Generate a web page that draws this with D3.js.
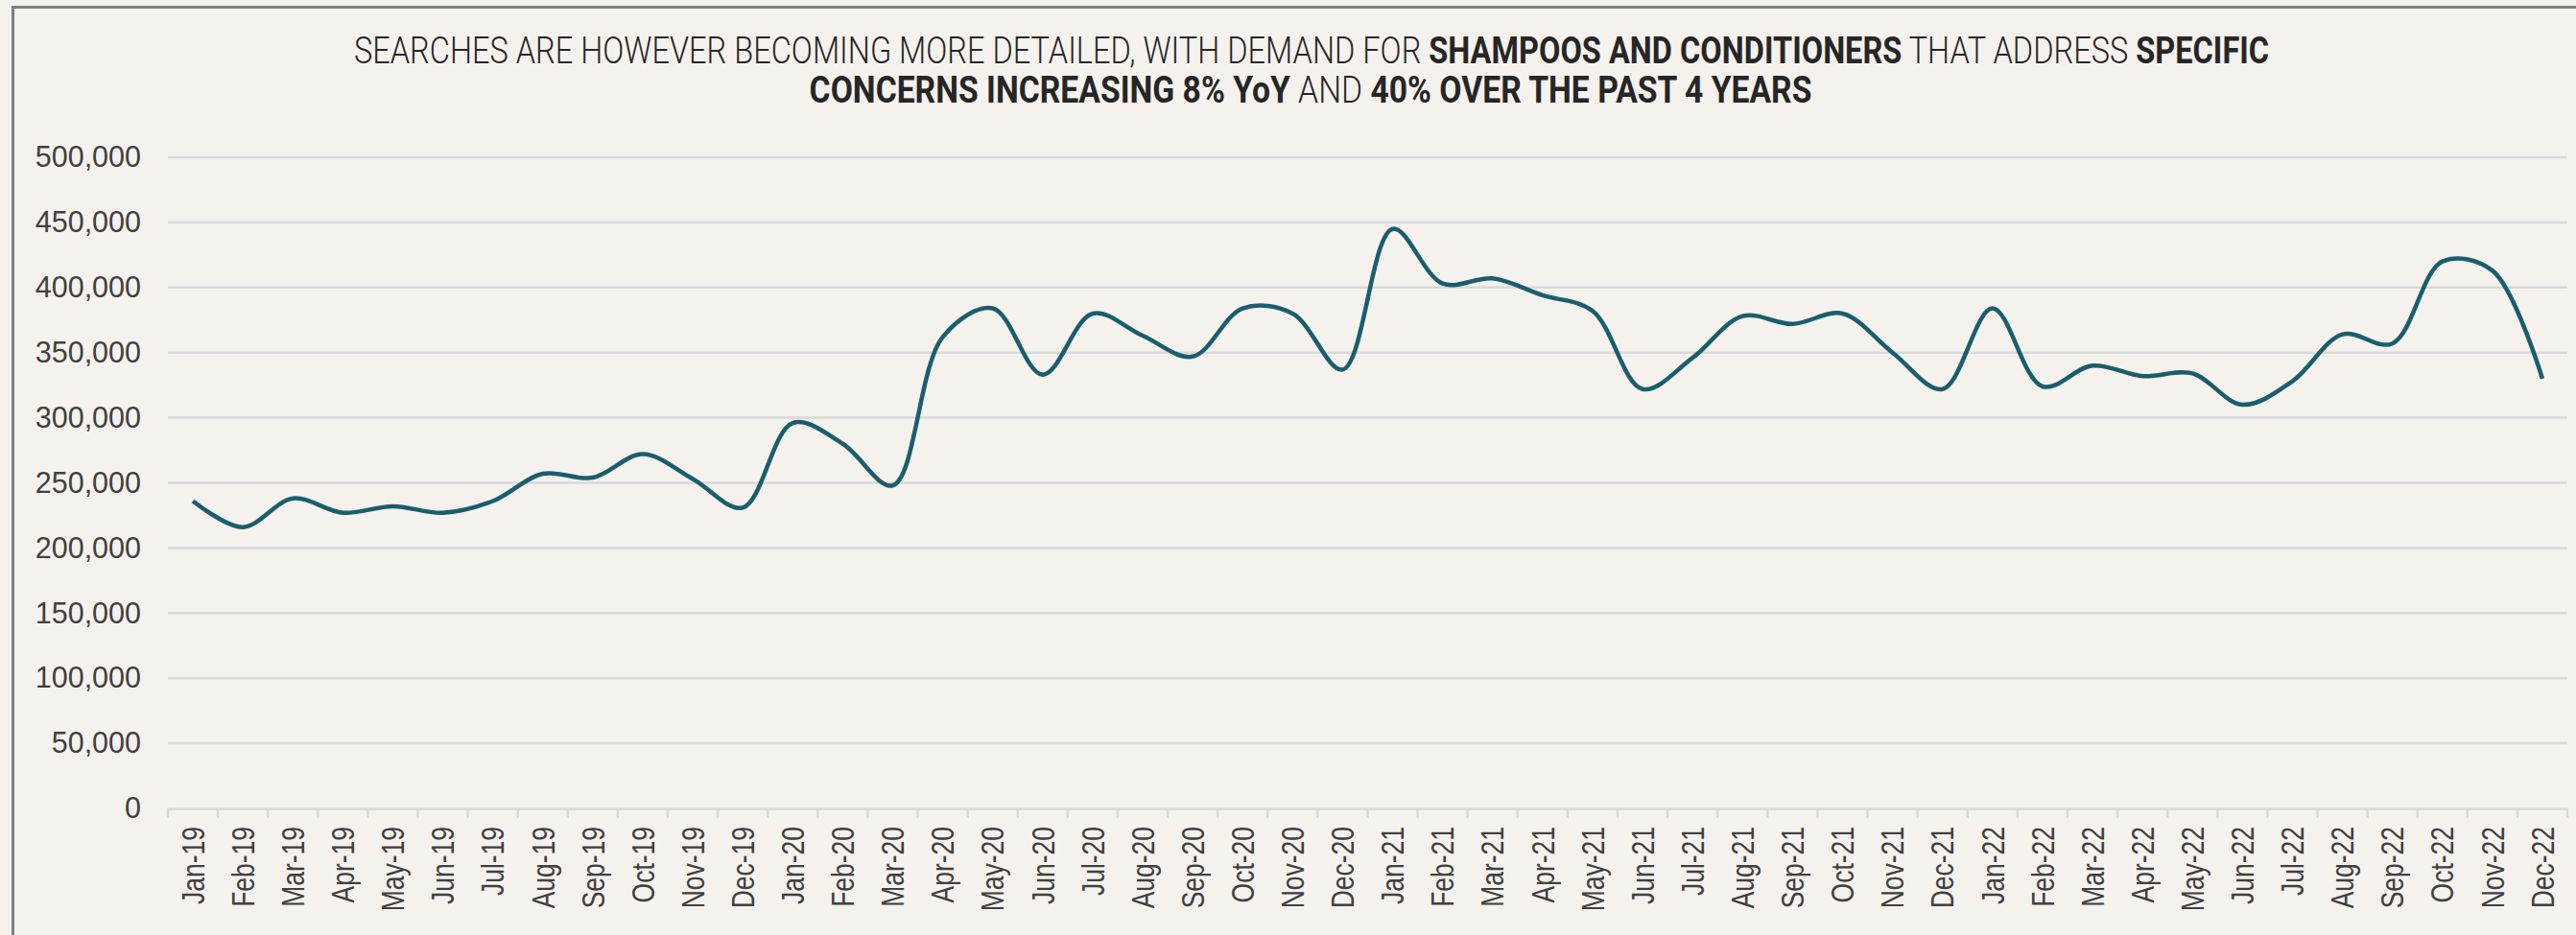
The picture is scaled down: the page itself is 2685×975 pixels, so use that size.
<!DOCTYPE html>
<html>
<head>
<meta charset="utf-8">
<script src="https://cdn.jsdelivr.net/npm/d3@7"></script>
<style>
  html, body { margin: 0; padding: 0; background: #f5f2ee; }
  svg { display: block; }
  .title tspan { white-space: pre; }
</style>
</head>
<body>
<svg id="chart"></svg>
<script>
// monthly searches, Jan-19 .. Dec-22
var months = ["Jan-19","Feb-19","Mar-19","Apr-19","May-19","Jun-19","Jul-19","Aug-19","Sep-19","Oct-19","Nov-19","Dec-19",
              "Jan-20","Feb-20","Mar-20","Apr-20","May-20","Jun-20","Jul-20","Aug-20","Sep-20","Oct-20","Nov-20","Dec-20",
              "Jan-21","Feb-21","Mar-21","Apr-21","May-21","Jun-21","Jul-21","Aug-21","Sep-21","Oct-21","Nov-21","Dec-21",
              "Jan-22","Feb-22","Mar-22","Apr-22","May-22","Jun-22","Jul-22","Aug-22","Sep-22","Oct-22","Nov-22","Dec-22"];

var searches = [236000, 216000, 238000, 227000, 232000, 227000, 236000, 257000, 254000, 272000, 253000, 231000,
                296000, 280000, 248000, 362000, 384000, 333000, 380000, 363000, 347000, 384000, 380000, 337000,
                445000, 403000, 407000, 394000, 382000, 322000, 346000, 378000, 372000, 380000, 350000, 322000,
                384000, 324000, 340000, 332000, 334000, 310000, 328000, 364000, 357000, 420000, 413000, 330000];

var yTicks = [0, 50000, 100000, 150000, 200000, 250000, 300000, 350000, 400000, 450000, 500000];

// title pieces: [text, bold?]
var titleLine1 = [["SEARCHES ARE HOWEVER BECOMING MORE DETAILED, WITH DEMAND FOR ", false],
                  ["SHAMPOOS AND CONDITIONERS", true],
                  [" THAT ADDRESS ", false],
                  ["SPECIFIC", true]];
var titleLine2 = [["CONCERNS INCREASING 8% YoY", true],
                  [" AND ", false],
                  ["40% OVER THE PAST 4 YEARS", true]];

var width = 2685, height = 975;
var margin = { top: 164, right: 9, bottom: 132, left: 175 };

var svg = d3.select("#chart")
    .attr("width", width)
    .attr("height", height);

svg.append("rect")
    .attr("width", width)
    .attr("height", height)
    .attr("fill", "#f5f2ee");

// frame (top and left edges only are visible)
svg.append("path")
    .attr("d", "M13.5," + height + "V7.5H" + width)
    .attr("fill", "none")
    .attr("stroke", "#7f7f7f")
    .attr("stroke-width", 3);

var x = d3.scaleBand()
    .domain(months)
    .range([margin.left, width - margin.right]);

var y = d3.scaleLinear()
    .domain([0, 500000])
    .range([height - margin.bottom, margin.top]);

// gridlines
svg.append("g")
  .selectAll("line")
  .data(yTicks.slice(1))
  .enter().append("line")
    .attr("x1", margin.left)
    .attr("x2", width - margin.right)
    .attr("y1", function(d) { return y(d); })
    .attr("y2", function(d) { return y(d); })
    .attr("stroke", "#d9d9d9")
    .attr("stroke-width", 2.5);

// y axis labels
var yAxis = svg.append("g")
    .attr("transform", "translate(" + margin.left + ",0)")
    .call(d3.axisLeft(y).tickValues(yTicks).tickSize(0).tickPadding(28)
            .tickFormat(d3.format(",")));
yAxis.select(".domain").remove();
yAxis.selectAll("text")
    .attr("font-family", "'Liberation Sans', Arial, sans-serif")
    .attr("font-size", 30.5)
    .attr("fill", "#404040");

// x axis
var xAxis = svg.append("g")
    .attr("transform", "translate(0," + y(0) + ")")
    .call(d3.axisBottom(x).tickSize(0));
xAxis.select(".domain")
    .attr("stroke", "#d9d9d9")
    .attr("stroke-width", 2.5);

svg.append("g")
  .selectAll("line")
  .data(months.concat(["end"]))
  .enter().append("line")
    .attr("x1", function(d, i) { return i < months.length ? x(d) : x.range()[1]; })
    .attr("x2", function(d, i) { return i < months.length ? x(d) : x.range()[1]; })
    .attr("y1", y(0))
    .attr("y2", y(0) + 10)
    .attr("stroke", "#d9d9d9")
    .attr("stroke-width", 2.5);

xAxis.selectAll("text")
    .attr("font-family", "'Liberation Sans', Arial, sans-serif")
    .attr("font-size", 33.5)
    .attr("fill", "#404040")
    .attr("text-anchor", "end")
    .attr("dy", "0.35em")
    .attr("y", 0)
    .attr("transform", "translate(0,19) rotate(-90) scale(0.79,1)");

// line
var line = d3.line()
    .x(function(d, i) { return x(months[i]) + x.bandwidth() / 2; })
    .y(function(d) { return y(d); })
    .curve(d3.curveCatmullRom.alpha(0.5));

svg.append("path")
    .datum(searches)
    .attr("fill", "none")
    .attr("stroke", "#1a5e6d")
    .attr("stroke-width", 4.5)
    .attr("stroke-linejoin", "round")
    .attr("d", line);

// title
function titleLine(parts, baseline, cx, targetWidth) {
  var g = svg.append("g");
  var t = g.append("text")
      .attr("class", "title")
      .attr("y", baseline)
      .attr("text-anchor", "middle")
      .attr("font-family", "Roboto, 'Liberation Sans', sans-serif")
      .attr("font-size", 38)
      .attr("fill", "#262626");
  parts.forEach(function(p) {
    t.append("tspan")
        .attr("font-weight", p[1] ? 700 : 300)
        .text(p[0]);
  });
  var w = t.node().getBBox().width;
  g.attr("transform", "translate(" + cx + ",0) scale(" + (targetWidth / w) + ",1)");
}
titleLine(titleLine1, 66, 1367, 1997);
titleLine(titleLine2, 107, 1366, 1045);
</script>
</body>
</html>
